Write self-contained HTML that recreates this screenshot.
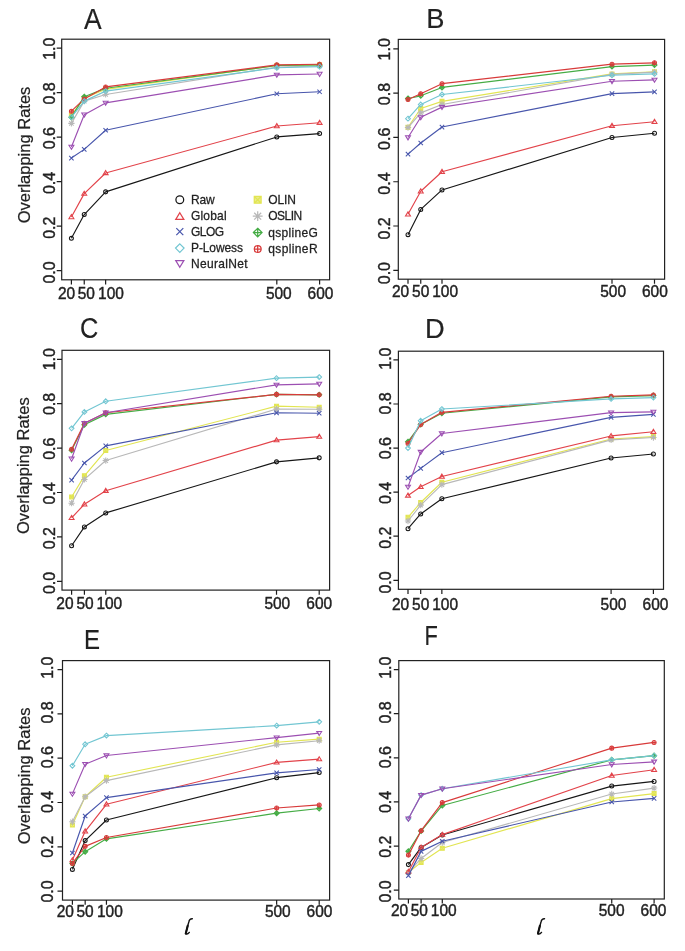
<!DOCTYPE html><html><head><meta charset="utf-8"><style>html,body{margin:0;padding:0;background:#fff;}svg{display:block;will-change:transform;}</style></head><body>
<svg width="685" height="951" viewBox="0 0 685 951">
<rect width="685" height="951" fill="#fff"/>
<g font-family='"Liberation Sans", sans-serif' fill="#222">
<rect x="61.7" y="39.2" width="267.9" height="240.6" fill="none" stroke="#222" stroke-width="1.2"/>
<path d="M56.7 270.6H61.7M56.7 226.12H61.7M56.7 181.64H61.7M56.7 137.16H61.7M56.7 92.68H61.7M56.7 48.2H61.7M71.4 279.8V284.4M84.24 279.8V284.4M105.63 279.8V284.4M276.81 279.8V284.4M319.6 279.8V284.4" stroke="#1c1c1c" stroke-width="1.2" fill="none"/>
<text transform="translate(54.8 272.5) rotate(-90) scale(1 1.04)" text-anchor="middle" font-size="16.0" stroke="#222" stroke-width="0.4">0.0</text>
<text transform="translate(54.8 227.73) rotate(-90) scale(1 1.04)" text-anchor="middle" font-size="16.0" stroke="#222" stroke-width="0.4">0.2</text>
<text transform="translate(54.8 182.96) rotate(-90) scale(1 1.04)" text-anchor="middle" font-size="16.0" stroke="#222" stroke-width="0.4">0.4</text>
<text transform="translate(54.8 138.19) rotate(-90) scale(1 1.04)" text-anchor="middle" font-size="16.0" stroke="#222" stroke-width="0.4">0.6</text>
<text transform="translate(54.8 93.42) rotate(-90) scale(1 1.04)" text-anchor="middle" font-size="16.0" stroke="#222" stroke-width="0.4">0.8</text>
<text transform="translate(54.8 48.65) rotate(-90) scale(1 1.04)" text-anchor="middle" font-size="16.0" stroke="#222" stroke-width="0.4">1.0</text>
<text transform="translate(57.9 299.2) scale(1 1.12)" font-size="15.5" stroke="#222" stroke-width="0.4">20</text>
<text transform="translate(77.7 299.2) scale(1 1.12)" font-size="15.5" stroke="#222" stroke-width="0.4">50</text>
<text transform="translate(98.1 299.2) scale(1 1.12)" font-size="15.5" stroke="#222" stroke-width="0.4">100</text>
<text transform="translate(265.9 299.2) scale(1 1.12)" font-size="15.5" stroke="#222" stroke-width="0.4">500</text>
<text transform="translate(307.6 299.2) scale(1 1.12)" font-size="15.5" stroke="#222" stroke-width="0.4">600</text>
<text transform="translate(84 28.6) scale(0.97 1.07)" font-size="27.3" stroke="#111" stroke-width="0.15">A</text>
<polyline points="71.4,238.35 84.24,214.56 105.63,191.87 276.81,136.94 319.6,133.6" fill="none" stroke="#161616" stroke-width="1.15" stroke-linejoin="round"/>
<circle cx="71.4" cy="238.35" r="1.99" fill="none" stroke="#161616" stroke-width="1.05"/>
<circle cx="84.24" cy="214.56" r="1.99" fill="none" stroke="#161616" stroke-width="1.05"/>
<circle cx="105.63" cy="191.87" r="1.99" fill="none" stroke="#161616" stroke-width="1.05"/>
<circle cx="276.81" cy="136.94" r="1.99" fill="none" stroke="#161616" stroke-width="1.05"/>
<circle cx="319.6" cy="133.6" r="1.99" fill="none" stroke="#161616" stroke-width="1.05"/>
<polyline points="71.4,114.92 84.24,98.24 105.63,89.34 276.81,65.55 319.6,64.88" fill="none" stroke="#e2e552" stroke-width="1.15" stroke-linejoin="round"/>
<path d="M69.41 112.93h3.99v3.99h-3.99ZM69.41 112.93L73.4 116.92M69.41 116.92L73.4 112.93" fill="#e9ec8a" stroke="#e2e552" stroke-width="1.05"/>
<path d="M82.24 96.24h3.99v3.99h-3.99ZM82.24 96.24L86.23 100.23M82.24 100.23L86.23 96.24" fill="#e9ec8a" stroke="#e2e552" stroke-width="1.05"/>
<path d="M103.64 87.35h3.99v3.99h-3.99ZM103.64 87.35L107.63 91.34M103.64 91.34L107.63 87.35" fill="#e9ec8a" stroke="#e2e552" stroke-width="1.05"/>
<path d="M274.81 63.55h3.99v3.99h-3.99ZM274.81 63.55L278.8 67.54M274.81 67.54L278.8 63.55" fill="#e9ec8a" stroke="#e2e552" stroke-width="1.05"/>
<path d="M317.61 62.88h3.99v3.99h-3.99ZM317.61 62.88L321.6 66.88M317.61 66.88L321.6 62.88" fill="#e9ec8a" stroke="#e2e552" stroke-width="1.05"/>
<polyline points="71.4,123.37 84.24,101.13 105.63,94.46 276.81,67.1 319.6,65.99" fill="none" stroke="#b8b8b8" stroke-width="1.15" stroke-linejoin="round"/>
<path d="M68.25 123.37L74.55 123.37M71.4 120.22L71.4 126.52M69.17 121.14L73.63 125.6M69.17 125.6L73.63 121.14" stroke="#b8b8b8" stroke-width="1.05"/>
<path d="M81.09 101.13L87.39 101.13M84.24 97.98L84.24 104.28M82.01 98.9L86.46 103.36M82.01 103.36L86.46 98.9" stroke="#b8b8b8" stroke-width="1.05"/>
<path d="M102.48 94.46L108.78 94.46M105.63 91.31L105.63 97.61M103.41 92.23L107.86 96.69M103.41 96.69L107.86 92.23" stroke="#b8b8b8" stroke-width="1.05"/>
<path d="M273.66 67.1L279.96 67.1M276.81 63.95L276.81 70.25M274.58 64.88L279.03 69.33M274.58 69.33L279.03 64.88" stroke="#b8b8b8" stroke-width="1.05"/>
<path d="M316.45 65.99L322.75 65.99M319.6 62.84L319.6 69.14M317.37 63.76L321.83 68.22M317.37 68.22L321.83 63.76" stroke="#b8b8b8" stroke-width="1.05"/>
<polyline points="71.4,217 84.24,193.65 105.63,172.97 276.81,126.04 319.6,122.7" fill="none" stroke="#e2434a" stroke-width="1.15" stroke-linejoin="round"/>
<path d="M71.4 214.59L73.89 218.67L68.91 218.67Z" fill="none" stroke="#e2434a" stroke-width="1.05" stroke-linejoin="miter"/>
<path d="M84.24 191.23L86.73 195.32L81.75 195.32Z" fill="none" stroke="#e2434a" stroke-width="1.05" stroke-linejoin="miter"/>
<path d="M105.63 170.55L108.12 174.63L103.15 174.63Z" fill="none" stroke="#e2434a" stroke-width="1.05" stroke-linejoin="miter"/>
<path d="M276.81 123.62L279.29 127.71L274.32 127.71Z" fill="none" stroke="#e2434a" stroke-width="1.05" stroke-linejoin="miter"/>
<path d="M319.6 120.29L322.09 124.37L317.11 124.37Z" fill="none" stroke="#e2434a" stroke-width="1.05" stroke-linejoin="miter"/>
<polyline points="71.4,158.07 84.24,149.39 105.63,130.27 276.81,93.79 319.6,91.79" fill="none" stroke="#4856ac" stroke-width="1.15" stroke-linejoin="round"/>
<path d="M69.2 155.86L73.61 160.27M69.2 160.27L73.61 155.86" stroke="#4856ac" stroke-width="1.05"/>
<path d="M82.03 147.19L86.44 151.6M82.03 151.6L86.44 147.19" stroke="#4856ac" stroke-width="1.05"/>
<path d="M103.43 128.06L107.84 132.47M103.43 132.47L107.84 128.06" stroke="#4856ac" stroke-width="1.05"/>
<path d="M274.6 91.59L279.01 96M274.6 96L279.01 91.59" stroke="#4856ac" stroke-width="1.05"/>
<path d="M317.4 89.59L321.81 94M317.4 94L321.81 89.59" stroke="#4856ac" stroke-width="1.05"/>
<polyline points="71.4,117.14 84.24,96.68 105.63,88.23 276.81,65.55 319.6,64.88" fill="none" stroke="#45ac45" stroke-width="1.15" stroke-linejoin="round"/>
<path d="M71.4 114.62L73.92 117.14L71.4 119.66L68.88 117.14ZM71.4 114.62L71.4 119.66M68.88 117.14L73.92 117.14" fill="none" stroke="#45ac45" stroke-width="1.05"/>
<path d="M84.24 94.16L86.76 96.68L84.24 99.2L81.72 96.68ZM84.24 94.16L84.24 99.2M81.72 96.68L86.76 96.68" fill="none" stroke="#45ac45" stroke-width="1.05"/>
<path d="M105.63 85.71L108.15 88.23L105.63 90.75L103.11 88.23ZM105.63 85.71L105.63 90.75M103.11 88.23L108.15 88.23" fill="none" stroke="#45ac45" stroke-width="1.05"/>
<path d="M276.81 63.03L279.33 65.55L276.81 68.07L274.29 65.55ZM276.81 63.03L276.81 68.07M274.29 65.55L279.33 65.55" fill="none" stroke="#45ac45" stroke-width="1.05"/>
<path d="M319.6 62.36L322.12 64.88L319.6 67.4L317.08 64.88ZM319.6 62.36L319.6 67.4M317.08 64.88L322.12 64.88" fill="none" stroke="#45ac45" stroke-width="1.05"/>
<polyline points="71.4,111.14 84.24,98.91 105.63,86.9 276.81,64.88 319.6,64.21" fill="none" stroke="#d83a3a" stroke-width="1.15" stroke-linejoin="round"/>
<circle cx="71.4" cy="111.14" r="1.99" fill="none" stroke="#d83a3a" stroke-width="1.05"/><path d="M71.4 109.14L71.4 113.13M69.41 111.14L73.4 111.14" stroke="#d83a3a" stroke-width="1.05"/>
<circle cx="84.24" cy="98.91" r="1.99" fill="none" stroke="#d83a3a" stroke-width="1.05"/><path d="M84.24 96.91L84.24 100.9M82.24 98.91L86.23 98.91" stroke="#d83a3a" stroke-width="1.05"/>
<circle cx="105.63" cy="86.9" r="1.99" fill="none" stroke="#d83a3a" stroke-width="1.05"/><path d="M105.63 84.9L105.63 88.89M103.64 86.9L107.63 86.9" stroke="#d83a3a" stroke-width="1.05"/>
<circle cx="276.81" cy="64.88" r="1.99" fill="none" stroke="#d83a3a" stroke-width="1.05"/><path d="M276.81 62.88L276.81 66.88M274.81 64.88L278.8 64.88" stroke="#d83a3a" stroke-width="1.05"/>
<circle cx="319.6" cy="64.21" r="1.99" fill="none" stroke="#d83a3a" stroke-width="1.05"/><path d="M319.6 62.22L319.6 66.21M317.61 64.21L321.6 64.21" stroke="#d83a3a" stroke-width="1.05"/>
<polyline points="71.4,117.14 84.24,101.13 105.63,91.12 276.81,67.77 319.6,66.66" fill="none" stroke="#72c6d2" stroke-width="1.15" stroke-linejoin="round"/>
<path d="M71.4 114.73L73.82 117.14L71.4 119.56L68.98 117.14Z" fill="none" stroke="#72c6d2" stroke-width="1.05"/>
<path d="M84.24 98.72L86.65 101.13L84.24 103.55L81.82 101.13Z" fill="none" stroke="#72c6d2" stroke-width="1.05"/>
<path d="M105.63 88.71L108.05 91.12L105.63 93.54L103.22 91.12Z" fill="none" stroke="#72c6d2" stroke-width="1.05"/>
<path d="M276.81 65.36L279.22 67.77L276.81 70.19L274.39 67.77Z" fill="none" stroke="#72c6d2" stroke-width="1.05"/>
<path d="M319.6 64.24L322.02 66.66L319.6 69.07L317.19 66.66Z" fill="none" stroke="#72c6d2" stroke-width="1.05"/>
<polyline points="71.4,146.95 84.24,114.7 105.63,102.91 276.81,74.89 319.6,74" fill="none" stroke="#9c4fb2" stroke-width="1.15" stroke-linejoin="round"/>
<path d="M71.4 149.36L73.89 145.28L68.91 145.28Z" fill="none" stroke="#9c4fb2" stroke-width="1.05"/>
<path d="M84.24 117.11L86.73 113.03L81.75 113.03Z" fill="none" stroke="#9c4fb2" stroke-width="1.05"/>
<path d="M105.63 105.33L108.12 101.24L103.15 101.24Z" fill="none" stroke="#9c4fb2" stroke-width="1.05"/>
<path d="M276.81 77.3L279.29 73.22L274.32 73.22Z" fill="none" stroke="#9c4fb2" stroke-width="1.05"/>
<path d="M319.6 76.41L322.09 72.33L317.11 72.33Z" fill="none" stroke="#9c4fb2" stroke-width="1.05"/>
<rect x="398.3" y="39.4" width="266.3" height="239.8" fill="none" stroke="#222" stroke-width="1.2"/>
<path d="M393.3 270.3H398.3M393.3 226.02H398.3M393.3 181.74H398.3M393.3 137.46H398.3M393.3 93.18H398.3M393.3 48.9H398.3M408 279.2V283.8M420.75 279.2V283.8M442 279.2V283.8M612 279.2V283.8M654.5 279.2V283.8" stroke="#1c1c1c" stroke-width="1.2" fill="none"/>
<text transform="translate(389.8 273.1) rotate(-90) scale(1 1.04)" text-anchor="middle" font-size="16.0" stroke="#222" stroke-width="0.4">0.0</text>
<text transform="translate(389.8 228.35) rotate(-90) scale(1 1.04)" text-anchor="middle" font-size="16.0" stroke="#222" stroke-width="0.4">0.2</text>
<text transform="translate(389.8 183.59) rotate(-90) scale(1 1.04)" text-anchor="middle" font-size="16.0" stroke="#222" stroke-width="0.4">0.4</text>
<text transform="translate(389.8 138.84) rotate(-90) scale(1 1.04)" text-anchor="middle" font-size="16.0" stroke="#222" stroke-width="0.4">0.6</text>
<text transform="translate(389.8 94.08) rotate(-90) scale(1 1.04)" text-anchor="middle" font-size="16.0" stroke="#222" stroke-width="0.4">0.8</text>
<text transform="translate(389.8 49.33) rotate(-90) scale(1 1.04)" text-anchor="middle" font-size="16.0" stroke="#222" stroke-width="0.4">1.0</text>
<text transform="translate(392 296.6) scale(1 1.12)" font-size="15.5" stroke="#222" stroke-width="0.4">20</text>
<text transform="translate(412.1 296.6) scale(1 1.12)" font-size="15.5" stroke="#222" stroke-width="0.4">50</text>
<text transform="translate(432.2 296.6) scale(1 1.12)" font-size="15.5" stroke="#222" stroke-width="0.4">100</text>
<text transform="translate(600.2 296.6) scale(1 1.12)" font-size="15.5" stroke="#222" stroke-width="0.4">500</text>
<text transform="translate(642 296.6) scale(1 1.12)" font-size="15.5" stroke="#222" stroke-width="0.4">600</text>
<text transform="translate(426.2 28.2) scale(1 1.03)" font-size="27.3" stroke="#111" stroke-width="0.15">B</text>
<polyline points="408,234.65 420.75,209.42 442,189.93 612,137.46 654.5,133.25" fill="none" stroke="#161616" stroke-width="1.15" stroke-linejoin="round"/>
<circle cx="408" cy="234.65" r="1.99" fill="none" stroke="#161616" stroke-width="1.05"/>
<circle cx="420.75" cy="209.42" r="1.99" fill="none" stroke="#161616" stroke-width="1.05"/>
<circle cx="442" cy="189.93" r="1.99" fill="none" stroke="#161616" stroke-width="1.05"/>
<circle cx="612" cy="137.46" r="1.99" fill="none" stroke="#161616" stroke-width="1.05"/>
<circle cx="654.5" cy="133.25" r="1.99" fill="none" stroke="#161616" stroke-width="1.05"/>
<polyline points="408,127.28 420.75,108.46 442,101.37 612,73.92 654.5,71.7" fill="none" stroke="#e2e552" stroke-width="1.15" stroke-linejoin="round"/>
<path d="M406 125.28h3.99v3.99h-3.99ZM406 125.28L410 129.27M406 129.27L410 125.28" fill="#e9ec8a" stroke="#e2e552" stroke-width="1.05"/>
<path d="M418.75 106.46h3.99v3.99h-3.99ZM418.75 106.46L422.75 110.45M418.75 110.45L422.75 106.46" fill="#e9ec8a" stroke="#e2e552" stroke-width="1.05"/>
<path d="M440 99.38h3.99v3.99h-3.99ZM440 99.38L444 103.37M440 103.37L444 99.38" fill="#e9ec8a" stroke="#e2e552" stroke-width="1.05"/>
<path d="M610 71.92h3.99v3.99h-3.99ZM610 71.92L614 75.91M610 75.91L614 71.92" fill="#e9ec8a" stroke="#e2e552" stroke-width="1.05"/>
<path d="M652.5 69.71h3.99v3.99h-3.99ZM652.5 69.71L656.5 73.7M652.5 73.7L656.5 69.71" fill="#e9ec8a" stroke="#e2e552" stroke-width="1.05"/>
<polyline points="408,127.5 420.75,112.88 442,104.47 612,74.36 654.5,72.15" fill="none" stroke="#b8b8b8" stroke-width="1.15" stroke-linejoin="round"/>
<path d="M404.85 127.5L411.15 127.5M408 124.35L408 130.65M405.77 125.27L410.23 129.72M405.77 129.72L410.23 125.27" stroke="#b8b8b8" stroke-width="1.05"/>
<path d="M417.6 112.88L423.9 112.88M420.75 109.73L420.75 116.03M418.52 110.66L422.98 115.11M418.52 115.11L422.98 110.66" stroke="#b8b8b8" stroke-width="1.05"/>
<path d="M438.85 104.47L445.15 104.47M442 101.32L442 107.62M439.77 102.24L444.23 106.7M439.77 106.7L444.23 102.24" stroke="#b8b8b8" stroke-width="1.05"/>
<path d="M608.85 74.36L615.15 74.36M612 71.21L612 77.51M609.77 72.13L614.23 76.59M609.77 76.59L614.23 72.13" stroke="#b8b8b8" stroke-width="1.05"/>
<path d="M651.35 72.15L657.65 72.15M654.5 69L654.5 75.3M652.27 69.92L656.73 74.37M652.27 74.37L656.73 69.92" stroke="#b8b8b8" stroke-width="1.05"/>
<polyline points="408,214.29 420.75,191.26 442,171.78 612,125.73 654.5,121.74" fill="none" stroke="#e2434a" stroke-width="1.15" stroke-linejoin="round"/>
<path d="M408 211.87L410.49 215.95L405.51 215.95Z" fill="none" stroke="#e2434a" stroke-width="1.05" stroke-linejoin="miter"/>
<path d="M420.75 188.85L423.24 192.93L418.26 192.93Z" fill="none" stroke="#e2434a" stroke-width="1.05" stroke-linejoin="miter"/>
<path d="M442 169.36L444.49 173.44L439.51 173.44Z" fill="none" stroke="#e2434a" stroke-width="1.05" stroke-linejoin="miter"/>
<path d="M612 123.31L614.49 127.39L609.51 127.39Z" fill="none" stroke="#e2434a" stroke-width="1.05" stroke-linejoin="miter"/>
<path d="M654.5 119.33L656.99 123.41L652.01 123.41Z" fill="none" stroke="#e2434a" stroke-width="1.05" stroke-linejoin="miter"/>
<polyline points="408,154.06 420.75,143 442,127.05 612,93.62 654.5,91.85" fill="none" stroke="#4856ac" stroke-width="1.15" stroke-linejoin="round"/>
<path d="M405.8 151.86L410.2 156.27M405.8 156.27L410.2 151.86" stroke="#4856ac" stroke-width="1.05"/>
<path d="M418.55 140.79L422.95 145.2M418.55 145.2L422.95 140.79" stroke="#4856ac" stroke-width="1.05"/>
<path d="M439.8 124.85L444.2 129.26M439.8 129.26L444.2 124.85" stroke="#4856ac" stroke-width="1.05"/>
<path d="M609.79 91.42L614.21 95.83M609.79 95.83L614.21 91.42" stroke="#4856ac" stroke-width="1.05"/>
<path d="M652.29 89.65L656.71 94.06M652.29 94.06L656.71 89.65" stroke="#4856ac" stroke-width="1.05"/>
<polyline points="408,98.49 420.75,95.84 442,87.42 612,66.61 654.5,65.06" fill="none" stroke="#45ac45" stroke-width="1.15" stroke-linejoin="round"/>
<path d="M408 95.97L410.52 98.49L408 101.01L405.48 98.49ZM408 95.97L408 101.01M405.48 98.49L410.52 98.49" fill="none" stroke="#45ac45" stroke-width="1.05"/>
<path d="M420.75 93.32L423.27 95.84L420.75 98.36L418.23 95.84ZM420.75 93.32L420.75 98.36M418.23 95.84L423.27 95.84" fill="none" stroke="#45ac45" stroke-width="1.05"/>
<path d="M442 84.9L444.52 87.42L442 89.94L439.48 87.42ZM442 84.9L442 89.94M439.48 87.42L444.52 87.42" fill="none" stroke="#45ac45" stroke-width="1.05"/>
<path d="M612 64.09L614.52 66.61L612 69.13L609.48 66.61ZM612 64.09L612 69.13M609.48 66.61L614.52 66.61" fill="none" stroke="#45ac45" stroke-width="1.05"/>
<path d="M654.5 62.54L657.02 65.06L654.5 67.58L651.98 65.06ZM654.5 62.54L654.5 67.58M651.98 65.06L657.02 65.06" fill="none" stroke="#45ac45" stroke-width="1.05"/>
<polyline points="408,99.6 420.75,93.84 442,83.66 612,64.18 654.5,62.85" fill="none" stroke="#d83a3a" stroke-width="1.15" stroke-linejoin="round"/>
<circle cx="408" cy="99.6" r="1.99" fill="none" stroke="#d83a3a" stroke-width="1.05"/><path d="M408 97.61L408 101.6M406 99.6L410 99.6" stroke="#d83a3a" stroke-width="1.05"/>
<circle cx="420.75" cy="93.84" r="1.99" fill="none" stroke="#d83a3a" stroke-width="1.05"/><path d="M420.75 91.85L420.75 95.84M418.75 93.84L422.75 93.84" stroke="#d83a3a" stroke-width="1.05"/>
<circle cx="442" cy="83.66" r="1.99" fill="none" stroke="#d83a3a" stroke-width="1.05"/><path d="M442 81.66L442 85.65M440 83.66L444 83.66" stroke="#d83a3a" stroke-width="1.05"/>
<circle cx="612" cy="64.18" r="1.99" fill="none" stroke="#d83a3a" stroke-width="1.05"/><path d="M612 62.18L612 66.17M610 64.18L614 64.18" stroke="#d83a3a" stroke-width="1.05"/>
<circle cx="654.5" cy="62.85" r="1.99" fill="none" stroke="#d83a3a" stroke-width="1.05"/><path d="M654.5 60.85L654.5 64.84M652.5 62.85L656.5 62.85" stroke="#d83a3a" stroke-width="1.05"/>
<polyline points="408,118.64 420.75,104.47 442,94.51 612,75.25 654.5,73.92" fill="none" stroke="#72c6d2" stroke-width="1.15" stroke-linejoin="round"/>
<path d="M408 116.23L410.42 118.64L408 121.06L405.58 118.64Z" fill="none" stroke="#72c6d2" stroke-width="1.05"/>
<path d="M420.75 102.06L423.17 104.47L420.75 106.89L418.33 104.47Z" fill="none" stroke="#72c6d2" stroke-width="1.05"/>
<path d="M442 92.09L444.42 94.51L442 96.92L439.58 94.51Z" fill="none" stroke="#72c6d2" stroke-width="1.05"/>
<path d="M612 72.83L614.41 75.25L612 77.66L609.59 75.25Z" fill="none" stroke="#72c6d2" stroke-width="1.05"/>
<path d="M654.5 71.5L656.91 73.92L654.5 76.33L652.09 73.92Z" fill="none" stroke="#72c6d2" stroke-width="1.05"/>
<polyline points="408,137.46 420.75,117.31 442,107.13 612,81.22 654.5,79.9" fill="none" stroke="#9c4fb2" stroke-width="1.15" stroke-linejoin="round"/>
<path d="M408 139.88L410.49 135.79L405.51 135.79Z" fill="none" stroke="#9c4fb2" stroke-width="1.05"/>
<path d="M420.75 119.73L423.24 115.65L418.26 115.65Z" fill="none" stroke="#9c4fb2" stroke-width="1.05"/>
<path d="M442 109.54L444.49 105.46L439.51 105.46Z" fill="none" stroke="#9c4fb2" stroke-width="1.05"/>
<path d="M612 83.64L614.49 79.56L609.51 79.56Z" fill="none" stroke="#9c4fb2" stroke-width="1.05"/>
<path d="M654.5 82.31L656.99 78.23L652.01 78.23Z" fill="none" stroke="#9c4fb2" stroke-width="1.05"/>
<rect x="62" y="350.3" width="267.6" height="239.8" fill="none" stroke="#222" stroke-width="1.2"/>
<path d="M57 581.3H62M57 536.9H62M57 492.5H62M57 448.1H62M57 403.7H62M57 359.3H62M71.6 590.1V594.7M84.41 590.1V594.7M105.75 590.1V594.7M276.51 590.1V594.7M319.2 590.1V594.7" stroke="#1c1c1c" stroke-width="1.2" fill="none"/>
<text transform="translate(54.5 583) rotate(-90) scale(1 1.04)" text-anchor="middle" font-size="16.0" stroke="#222" stroke-width="0.4">0.0</text>
<text transform="translate(54.5 538.24) rotate(-90) scale(1 1.04)" text-anchor="middle" font-size="16.0" stroke="#222" stroke-width="0.4">0.2</text>
<text transform="translate(54.5 493.48) rotate(-90) scale(1 1.04)" text-anchor="middle" font-size="16.0" stroke="#222" stroke-width="0.4">0.4</text>
<text transform="translate(54.5 448.72) rotate(-90) scale(1 1.04)" text-anchor="middle" font-size="16.0" stroke="#222" stroke-width="0.4">0.6</text>
<text transform="translate(54.5 403.96) rotate(-90) scale(1 1.04)" text-anchor="middle" font-size="16.0" stroke="#222" stroke-width="0.4">0.8</text>
<text transform="translate(54.5 359.2) rotate(-90) scale(1 1.04)" text-anchor="middle" font-size="16.0" stroke="#222" stroke-width="0.4">1.0</text>
<text transform="translate(56.3 608.8) scale(1 1.12)" font-size="15.5" stroke="#222" stroke-width="0.4">20</text>
<text transform="translate(76.5 608.8) scale(1 1.12)" font-size="15.5" stroke="#222" stroke-width="0.4">50</text>
<text transform="translate(96.4 608.8) scale(1 1.12)" font-size="15.5" stroke="#222" stroke-width="0.4">100</text>
<text transform="translate(264.4 608.8) scale(1 1.12)" font-size="15.5" stroke="#222" stroke-width="0.4">500</text>
<text transform="translate(306.3 608.8) scale(1 1.12)" font-size="15.5" stroke="#222" stroke-width="0.4">600</text>
<text transform="translate(79.9 338) scale(0.93 1.06)" font-size="27.3" stroke="#111" stroke-width="0.15">C</text>
<polyline points="71.6,545.78 84.41,526.91 105.75,512.92 276.51,461.86 319.2,457.87" fill="none" stroke="#161616" stroke-width="1.15" stroke-linejoin="round"/>
<circle cx="71.6" cy="545.78" r="1.99" fill="none" stroke="#161616" stroke-width="1.05"/>
<circle cx="84.41" cy="526.91" r="1.99" fill="none" stroke="#161616" stroke-width="1.05"/>
<circle cx="105.75" cy="512.92" r="1.99" fill="none" stroke="#161616" stroke-width="1.05"/>
<circle cx="276.51" cy="461.86" r="1.99" fill="none" stroke="#161616" stroke-width="1.05"/>
<circle cx="319.2" cy="457.87" r="1.99" fill="none" stroke="#161616" stroke-width="1.05"/>
<polyline points="71.6,496.94 84.41,475.85 105.75,450.54 276.51,406.14 319.2,407.25" fill="none" stroke="#e2e552" stroke-width="1.15" stroke-linejoin="round"/>
<path d="M69.6 494.94h3.99v3.99h-3.99ZM69.6 494.94L73.59 498.93M69.6 498.93L73.59 494.94" fill="#e9ec8a" stroke="#e2e552" stroke-width="1.05"/>
<path d="M82.41 473.85h3.99v3.99h-3.99ZM82.41 473.85L86.4 477.84M82.41 477.84L86.4 473.85" fill="#e9ec8a" stroke="#e2e552" stroke-width="1.05"/>
<path d="M103.76 448.55h3.99v3.99h-3.99ZM103.76 448.55L107.75 452.54M103.76 452.54L107.75 448.55" fill="#e9ec8a" stroke="#e2e552" stroke-width="1.05"/>
<path d="M274.52 404.15h3.99v3.99h-3.99ZM274.52 404.15L278.51 408.14M274.52 408.14L278.51 404.15" fill="#e9ec8a" stroke="#e2e552" stroke-width="1.05"/>
<path d="M317.2 405.26h3.99v3.99h-3.99ZM317.2 405.26L321.19 409.25M317.2 409.25L321.19 405.26" fill="#e9ec8a" stroke="#e2e552" stroke-width="1.05"/>
<polyline points="71.6,503.16 84.41,479.4 105.75,460.53 276.51,409.03 319.2,409.25" fill="none" stroke="#b8b8b8" stroke-width="1.15" stroke-linejoin="round"/>
<path d="M68.45 503.16L74.75 503.16M71.6 500.01L71.6 506.31M69.37 500.93L73.83 505.38M69.37 505.38L73.83 500.93" stroke="#b8b8b8" stroke-width="1.05"/>
<path d="M81.26 479.4L87.56 479.4M84.41 476.25L84.41 482.55M82.18 477.17L86.63 481.63M82.18 481.63L86.63 477.17" stroke="#b8b8b8" stroke-width="1.05"/>
<path d="M102.6 460.53L108.9 460.53M105.75 457.38L105.75 463.68M103.52 458.3L107.98 462.76M103.52 462.76L107.98 458.3" stroke="#b8b8b8" stroke-width="1.05"/>
<path d="M273.36 409.03L279.66 409.03M276.51 405.88L276.51 412.18M274.28 406.8L278.74 411.26M274.28 411.26L278.74 406.8" stroke="#b8b8b8" stroke-width="1.05"/>
<path d="M316.05 409.25L322.35 409.25M319.2 406.1L319.2 412.4M316.97 407.02L321.43 411.48M316.97 411.48L321.43 407.02" stroke="#b8b8b8" stroke-width="1.05"/>
<polyline points="71.6,517.81 84.41,504.27 105.75,490.72 276.51,440.11 319.2,436.56" fill="none" stroke="#e2434a" stroke-width="1.15" stroke-linejoin="round"/>
<path d="M71.6 515.39L74.09 519.47L69.11 519.47Z" fill="none" stroke="#e2434a" stroke-width="1.05" stroke-linejoin="miter"/>
<path d="M84.41 501.85L86.89 505.93L81.92 505.93Z" fill="none" stroke="#e2434a" stroke-width="1.05" stroke-linejoin="miter"/>
<path d="M105.75 488.31L108.24 492.39L103.26 492.39Z" fill="none" stroke="#e2434a" stroke-width="1.05" stroke-linejoin="miter"/>
<path d="M276.51 437.69L279 441.77L274.02 441.77Z" fill="none" stroke="#e2434a" stroke-width="1.05" stroke-linejoin="miter"/>
<path d="M319.2 434.14L321.69 438.22L316.71 438.22Z" fill="none" stroke="#e2434a" stroke-width="1.05" stroke-linejoin="miter"/>
<polyline points="71.6,480.07 84.41,462.97 105.75,445.88 276.51,412.8 319.2,413.25" fill="none" stroke="#4856ac" stroke-width="1.15" stroke-linejoin="round"/>
<path d="M69.39 477.86L73.8 482.27M69.39 482.27L73.8 477.86" stroke="#4856ac" stroke-width="1.05"/>
<path d="M82.2 460.77L86.61 465.18M82.2 465.18L86.61 460.77" stroke="#4856ac" stroke-width="1.05"/>
<path d="M103.55 443.68L107.96 448.08M103.55 448.08L107.96 443.68" stroke="#4856ac" stroke-width="1.05"/>
<path d="M274.31 410.6L278.72 415.01M274.31 415.01L278.72 410.6" stroke="#4856ac" stroke-width="1.05"/>
<path d="M317 411.04L321.4 415.45M317 415.45L321.4 411.04" stroke="#4856ac" stroke-width="1.05"/>
<polyline points="71.6,450.32 84.41,424.79 105.75,414.36 276.51,394.38 319.2,394.82" fill="none" stroke="#45ac45" stroke-width="1.15" stroke-linejoin="round"/>
<path d="M71.6 447.8L74.12 450.32L71.6 452.84L69.08 450.32ZM71.6 447.8L71.6 452.84M69.08 450.32L74.12 450.32" fill="none" stroke="#45ac45" stroke-width="1.05"/>
<path d="M84.41 422.27L86.93 424.79L84.41 427.31L81.89 424.79ZM84.41 422.27L84.41 427.31M81.89 424.79L86.93 424.79" fill="none" stroke="#45ac45" stroke-width="1.05"/>
<path d="M105.75 411.84L108.27 414.36L105.75 416.88L103.23 414.36ZM105.75 411.84L105.75 416.88M103.23 414.36L108.27 414.36" fill="none" stroke="#45ac45" stroke-width="1.05"/>
<path d="M276.51 391.86L279.03 394.38L276.51 396.9L273.99 394.38ZM276.51 391.86L276.51 396.9M273.99 394.38L279.03 394.38" fill="none" stroke="#45ac45" stroke-width="1.05"/>
<path d="M319.2 392.3L321.72 394.82L319.2 397.34L316.68 394.82ZM319.2 392.3L319.2 397.34M316.68 394.82L321.72 394.82" fill="none" stroke="#45ac45" stroke-width="1.05"/>
<polyline points="71.6,449.21 84.41,423.24 105.75,412.8 276.51,394.38 319.2,394.82" fill="none" stroke="#d83a3a" stroke-width="1.15" stroke-linejoin="round"/>
<circle cx="71.6" cy="449.21" r="1.99" fill="none" stroke="#d83a3a" stroke-width="1.05"/><path d="M71.6 447.22L71.6 451.21M69.6 449.21L73.59 449.21" stroke="#d83a3a" stroke-width="1.05"/>
<circle cx="84.41" cy="423.24" r="1.99" fill="none" stroke="#d83a3a" stroke-width="1.05"/><path d="M84.41 421.24L84.41 425.23M82.41 423.24L86.4 423.24" stroke="#d83a3a" stroke-width="1.05"/>
<circle cx="105.75" cy="412.8" r="1.99" fill="none" stroke="#d83a3a" stroke-width="1.05"/><path d="M105.75 410.81L105.75 414.8M103.76 412.8L107.75 412.8" stroke="#d83a3a" stroke-width="1.05"/>
<circle cx="276.51" cy="394.38" r="1.99" fill="none" stroke="#d83a3a" stroke-width="1.05"/><path d="M276.51 392.38L276.51 396.37M274.52 394.38L278.51 394.38" stroke="#d83a3a" stroke-width="1.05"/>
<circle cx="319.2" cy="394.82" r="1.99" fill="none" stroke="#d83a3a" stroke-width="1.05"/><path d="M319.2 392.83L319.2 396.82M317.2 394.82L321.19 394.82" stroke="#d83a3a" stroke-width="1.05"/>
<polyline points="71.6,428.34 84.41,411.91 105.75,401.26 276.51,378.17 319.2,377.06" fill="none" stroke="#72c6d2" stroke-width="1.15" stroke-linejoin="round"/>
<path d="M71.6 425.93L74.02 428.34L71.6 430.76L69.18 428.34Z" fill="none" stroke="#72c6d2" stroke-width="1.05"/>
<path d="M84.41 409.5L86.82 411.91L84.41 414.33L81.99 411.91Z" fill="none" stroke="#72c6d2" stroke-width="1.05"/>
<path d="M105.75 398.84L108.17 401.26L105.75 403.67L103.34 401.26Z" fill="none" stroke="#72c6d2" stroke-width="1.05"/>
<path d="M276.51 375.75L278.93 378.17L276.51 380.58L274.1 378.17Z" fill="none" stroke="#72c6d2" stroke-width="1.05"/>
<path d="M319.2 374.64L321.62 377.06L319.2 379.48L316.78 377.06Z" fill="none" stroke="#72c6d2" stroke-width="1.05"/>
<polyline points="71.6,458.76 84.41,423.24 105.75,412.8 276.51,384.83 319.2,383.94" fill="none" stroke="#9c4fb2" stroke-width="1.15" stroke-linejoin="round"/>
<path d="M71.6 461.17L74.09 457.09L69.11 457.09Z" fill="none" stroke="#9c4fb2" stroke-width="1.05"/>
<path d="M84.41 425.65L86.89 421.57L81.92 421.57Z" fill="none" stroke="#9c4fb2" stroke-width="1.05"/>
<path d="M105.75 415.22L108.24 411.14L103.26 411.14Z" fill="none" stroke="#9c4fb2" stroke-width="1.05"/>
<path d="M276.51 387.25L279 383.16L274.02 383.16Z" fill="none" stroke="#9c4fb2" stroke-width="1.05"/>
<path d="M319.2 386.36L321.69 382.28L316.71 382.28Z" fill="none" stroke="#9c4fb2" stroke-width="1.05"/>
<rect x="398.4" y="351.2" width="265.1" height="238.1" fill="none" stroke="#222" stroke-width="1.2"/>
<path d="M393.4 580.3H398.4M393.4 536.22H398.4M393.4 492.14H398.4M393.4 448.06H398.4M393.4 403.98H398.4M393.4 359.9H398.4M408 589.3V593.9M420.69 589.3V593.9M441.85 589.3V593.9M611.09 589.3V593.9M653.4 589.3V593.9" stroke="#1c1c1c" stroke-width="1.2" fill="none"/>
<text transform="translate(391.1 582.5) rotate(-90) scale(1 1.04)" text-anchor="middle" font-size="16.0" stroke="#222" stroke-width="0.4">0.0</text>
<text transform="translate(391.1 537.72) rotate(-90) scale(1 1.04)" text-anchor="middle" font-size="16.0" stroke="#222" stroke-width="0.4">0.2</text>
<text transform="translate(391.1 492.94) rotate(-90) scale(1 1.04)" text-anchor="middle" font-size="16.0" stroke="#222" stroke-width="0.4">0.4</text>
<text transform="translate(391.1 448.16) rotate(-90) scale(1 1.04)" text-anchor="middle" font-size="16.0" stroke="#222" stroke-width="0.4">0.6</text>
<text transform="translate(391.1 403.38) rotate(-90) scale(1 1.04)" text-anchor="middle" font-size="16.0" stroke="#222" stroke-width="0.4">0.8</text>
<text transform="translate(391.1 358.6) rotate(-90) scale(1 1.04)" text-anchor="middle" font-size="16.0" stroke="#222" stroke-width="0.4">1.0</text>
<text transform="translate(392 609.6) scale(1 1.12)" font-size="15.5" stroke="#222" stroke-width="0.4">20</text>
<text transform="translate(412.1 609.6) scale(1 1.12)" font-size="15.5" stroke="#222" stroke-width="0.4">50</text>
<text transform="translate(432.2 609.6) scale(1 1.12)" font-size="15.5" stroke="#222" stroke-width="0.4">100</text>
<text transform="translate(600.6 609.6) scale(1 1.12)" font-size="15.5" stroke="#222" stroke-width="0.4">500</text>
<text transform="translate(642.6 609.6) scale(1 1.12)" font-size="15.5" stroke="#222" stroke-width="0.4">600</text>
<text transform="translate(425 337.7) scale(1 1)" font-size="27.3" stroke="#111" stroke-width="0.15">D</text>
<polyline points="408,528.73 420.69,513.96 441.85,498.75 611.09,457.98 653.4,454.01" fill="none" stroke="#161616" stroke-width="1.15" stroke-linejoin="round"/>
<circle cx="408" cy="528.73" r="1.99" fill="none" stroke="#161616" stroke-width="1.05"/>
<circle cx="420.69" cy="513.96" r="1.99" fill="none" stroke="#161616" stroke-width="1.05"/>
<circle cx="441.85" cy="498.75" r="1.99" fill="none" stroke="#161616" stroke-width="1.05"/>
<circle cx="611.09" cy="457.98" r="1.99" fill="none" stroke="#161616" stroke-width="1.05"/>
<circle cx="653.4" cy="454.01" r="1.99" fill="none" stroke="#161616" stroke-width="1.05"/>
<polyline points="408,517.27 420.69,502.5 441.85,482.22 611.09,439.02 653.4,436.6" fill="none" stroke="#e2e552" stroke-width="1.15" stroke-linejoin="round"/>
<path d="M406 515.27h3.99v3.99h-3.99ZM406 515.27L410 519.26M406 519.26L410 515.27" fill="#e9ec8a" stroke="#e2e552" stroke-width="1.05"/>
<path d="M418.7 500.5h3.99v3.99h-3.99ZM418.7 500.5L422.69 504.49M418.7 504.49L422.69 500.5" fill="#e9ec8a" stroke="#e2e552" stroke-width="1.05"/>
<path d="M439.85 480.23h3.99v3.99h-3.99ZM439.85 480.23L443.84 484.22M439.85 484.22L443.84 480.23" fill="#e9ec8a" stroke="#e2e552" stroke-width="1.05"/>
<path d="M609.09 437.03h3.99v3.99h-3.99ZM609.09 437.03L613.08 441.02M609.09 441.02L613.08 437.03" fill="#e9ec8a" stroke="#e2e552" stroke-width="1.05"/>
<path d="M651.4 434.6h3.99v3.99h-3.99ZM651.4 434.6L655.39 438.59M651.4 438.59L655.39 434.6" fill="#e9ec8a" stroke="#e2e552" stroke-width="1.05"/>
<polyline points="408,521.01 420.69,505.14 441.85,484.65 611.09,439.91 653.4,437.48" fill="none" stroke="#b8b8b8" stroke-width="1.15" stroke-linejoin="round"/>
<path d="M404.85 521.01L411.15 521.01M408 517.86L408 524.16M405.77 518.79L410.23 523.24M405.77 523.24L410.23 518.79" stroke="#b8b8b8" stroke-width="1.05"/>
<path d="M417.54 505.14L423.84 505.14M420.69 501.99L420.69 508.29M418.47 502.92L422.92 507.37M418.47 507.37L422.92 502.92" stroke="#b8b8b8" stroke-width="1.05"/>
<path d="M438.7 484.65L445 484.65M441.85 481.5L441.85 487.8M439.62 482.42L444.08 486.87M439.62 486.87L444.08 482.42" stroke="#b8b8b8" stroke-width="1.05"/>
<path d="M607.94 439.91L614.24 439.91M611.09 436.76L611.09 443.06M608.86 437.68L613.32 442.13M608.86 442.13L613.32 437.68" stroke="#b8b8b8" stroke-width="1.05"/>
<path d="M650.25 437.48L656.55 437.48M653.4 434.33L653.4 440.63M651.17 435.25L655.63 439.71M651.17 439.71L655.63 435.25" stroke="#b8b8b8" stroke-width="1.05"/>
<polyline points="408,495.45 420.69,486.85 441.85,476.49 611.09,435.94 653.4,431.75" fill="none" stroke="#e2434a" stroke-width="1.15" stroke-linejoin="round"/>
<path d="M408 493.03L410.49 497.11L405.51 497.11Z" fill="none" stroke="#e2434a" stroke-width="1.05" stroke-linejoin="miter"/>
<path d="M420.69 484.44L423.18 488.52L418.21 488.52Z" fill="none" stroke="#e2434a" stroke-width="1.05" stroke-linejoin="miter"/>
<path d="M441.85 474.08L444.34 478.16L439.36 478.16Z" fill="none" stroke="#e2434a" stroke-width="1.05" stroke-linejoin="miter"/>
<path d="M611.09 433.52L613.58 437.6L608.6 437.6Z" fill="none" stroke="#e2434a" stroke-width="1.05" stroke-linejoin="miter"/>
<path d="M653.4 429.34L655.89 433.42L650.91 433.42Z" fill="none" stroke="#e2434a" stroke-width="1.05" stroke-linejoin="miter"/>
<polyline points="408,478.03 420.69,468.34 441.85,452.69 611.09,417.42 653.4,414.34" fill="none" stroke="#4856ac" stroke-width="1.15" stroke-linejoin="round"/>
<path d="M405.8 475.83L410.2 480.24M405.8 480.24L410.2 475.83" stroke="#4856ac" stroke-width="1.05"/>
<path d="M418.49 466.13L422.9 470.54M418.49 470.54L422.9 466.13" stroke="#4856ac" stroke-width="1.05"/>
<path d="M439.64 450.48L444.05 454.89M439.64 454.89L444.05 450.48" stroke="#4856ac" stroke-width="1.05"/>
<path d="M608.88 415.22L613.29 419.63M608.88 419.63L613.29 415.22" stroke="#4856ac" stroke-width="1.05"/>
<path d="M651.19 412.13L655.61 416.54M651.19 416.54L655.61 412.13" stroke="#4856ac" stroke-width="1.05"/>
<polyline points="408,441.67 420.69,424.48 441.85,413.24 611.09,396.93 653.4,395.6" fill="none" stroke="#45ac45" stroke-width="1.15" stroke-linejoin="round"/>
<path d="M408 439.15L410.52 441.67L408 444.19L405.48 441.67ZM408 439.15L408 444.19M405.48 441.67L410.52 441.67" fill="none" stroke="#45ac45" stroke-width="1.05"/>
<path d="M420.69 421.96L423.21 424.48L420.69 427L418.17 424.48ZM420.69 421.96L420.69 427M418.17 424.48L423.21 424.48" fill="none" stroke="#45ac45" stroke-width="1.05"/>
<path d="M441.85 410.72L444.37 413.24L441.85 415.76L439.33 413.24ZM441.85 410.72L441.85 415.76M439.33 413.24L444.37 413.24" fill="none" stroke="#45ac45" stroke-width="1.05"/>
<path d="M611.09 394.41L613.61 396.93L611.09 399.45L608.57 396.93ZM611.09 394.41L611.09 399.45M608.57 396.93L613.61 396.93" fill="none" stroke="#45ac45" stroke-width="1.05"/>
<path d="M653.4 393.08L655.92 395.6L653.4 398.12L650.88 395.6ZM653.4 393.08L653.4 398.12M650.88 395.6L655.92 395.6" fill="none" stroke="#45ac45" stroke-width="1.05"/>
<polyline points="408,443.43 420.69,424.48 441.85,412.36 611.09,396.27 653.4,394.94" fill="none" stroke="#d83a3a" stroke-width="1.15" stroke-linejoin="round"/>
<circle cx="408" cy="443.43" r="1.99" fill="none" stroke="#d83a3a" stroke-width="1.05"/><path d="M408 441.44L408 445.43M406 443.43L410 443.43" stroke="#d83a3a" stroke-width="1.05"/>
<circle cx="420.69" cy="424.48" r="1.99" fill="none" stroke="#d83a3a" stroke-width="1.05"/><path d="M420.69 422.48L420.69 426.47M418.7 424.48L422.69 424.48" stroke="#d83a3a" stroke-width="1.05"/>
<circle cx="441.85" cy="412.36" r="1.99" fill="none" stroke="#d83a3a" stroke-width="1.05"/><path d="M441.85 410.36L441.85 414.35M439.85 412.36L443.84 412.36" stroke="#d83a3a" stroke-width="1.05"/>
<circle cx="611.09" cy="396.27" r="1.99" fill="none" stroke="#d83a3a" stroke-width="1.05"/><path d="M611.09 394.27L611.09 398.26M609.09 396.27L613.08 396.27" stroke="#d83a3a" stroke-width="1.05"/>
<circle cx="653.4" cy="394.94" r="1.99" fill="none" stroke="#d83a3a" stroke-width="1.05"/><path d="M653.4 392.95L653.4 396.94M651.4 394.94L655.39 394.94" stroke="#d83a3a" stroke-width="1.05"/>
<polyline points="408,448.06 420.69,420.73 441.85,409.05 611.09,398.91 653.4,397.59" fill="none" stroke="#72c6d2" stroke-width="1.15" stroke-linejoin="round"/>
<path d="M408 445.64L410.42 448.06L408 450.47L405.58 448.06Z" fill="none" stroke="#72c6d2" stroke-width="1.05"/>
<path d="M420.69 418.32L423.11 420.73L420.69 423.15L418.28 420.73Z" fill="none" stroke="#72c6d2" stroke-width="1.05"/>
<path d="M441.85 406.63L444.26 409.05L441.85 411.46L439.43 409.05Z" fill="none" stroke="#72c6d2" stroke-width="1.05"/>
<path d="M611.09 396.5L613.5 398.91L611.09 401.33L608.67 398.91Z" fill="none" stroke="#72c6d2" stroke-width="1.05"/>
<path d="M653.4 395.17L655.81 397.59L653.4 400L650.99 397.59Z" fill="none" stroke="#72c6d2" stroke-width="1.05"/>
<polyline points="408,486.85 420.69,452.03 441.85,433.51 611.09,412.58 653.4,411.91" fill="none" stroke="#9c4fb2" stroke-width="1.15" stroke-linejoin="round"/>
<path d="M408 489.27L410.49 485.18L405.51 485.18Z" fill="none" stroke="#9c4fb2" stroke-width="1.05"/>
<path d="M420.69 454.44L423.18 450.36L418.21 450.36Z" fill="none" stroke="#9c4fb2" stroke-width="1.05"/>
<path d="M441.85 435.93L444.34 431.85L439.36 431.85Z" fill="none" stroke="#9c4fb2" stroke-width="1.05"/>
<path d="M611.09 414.99L613.58 410.91L608.6 410.91Z" fill="none" stroke="#9c4fb2" stroke-width="1.05"/>
<path d="M653.4 414.33L655.89 410.25L650.91 410.25Z" fill="none" stroke="#9c4fb2" stroke-width="1.05"/>
<rect x="62.5" y="660.6" width="267.1" height="239.5" fill="none" stroke="#222" stroke-width="1.2"/>
<path d="M57.5 891.1H62.5M57.5 846.8H62.5M57.5 802.5H62.5M57.5 758.2H62.5M57.5 713.9H62.5M57.5 669.6H62.5M72.4 900.1V904.7M85.17 900.1V904.7M106.44 900.1V904.7M276.65 900.1V904.7M319.2 900.1V904.7" stroke="#1c1c1c" stroke-width="1.2" fill="none"/>
<text transform="translate(53.1 891.4) rotate(-90) scale(1 1.04)" text-anchor="middle" font-size="16.0" stroke="#222" stroke-width="0.4">0.0</text>
<text transform="translate(53.1 846.66) rotate(-90) scale(1 1.04)" text-anchor="middle" font-size="16.0" stroke="#222" stroke-width="0.4">0.2</text>
<text transform="translate(53.1 801.92) rotate(-90) scale(1 1.04)" text-anchor="middle" font-size="16.0" stroke="#222" stroke-width="0.4">0.4</text>
<text transform="translate(53.1 757.18) rotate(-90) scale(1 1.04)" text-anchor="middle" font-size="16.0" stroke="#222" stroke-width="0.4">0.6</text>
<text transform="translate(53.1 712.44) rotate(-90) scale(1 1.04)" text-anchor="middle" font-size="16.0" stroke="#222" stroke-width="0.4">0.8</text>
<text transform="translate(53.1 667.7) rotate(-90) scale(1 1.04)" text-anchor="middle" font-size="16.0" stroke="#222" stroke-width="0.4">1.0</text>
<text transform="translate(56.7 916.6) scale(1 1.12)" font-size="15.5" stroke="#222" stroke-width="0.4">20</text>
<text transform="translate(76.5 916.6) scale(1 1.12)" font-size="15.5" stroke="#222" stroke-width="0.4">50</text>
<text transform="translate(97 916.6) scale(1 1.12)" font-size="15.5" stroke="#222" stroke-width="0.4">100</text>
<text transform="translate(264.9 916.6) scale(1 1.12)" font-size="15.5" stroke="#222" stroke-width="0.4">500</text>
<text transform="translate(306.6 916.6) scale(1 1.12)" font-size="15.5" stroke="#222" stroke-width="0.4">600</text>
<text transform="translate(84 649.3) scale(0.88 1)" font-size="27.3" stroke="#111" stroke-width="0.15">E</text>
<polyline points="72.4,869.39 85.17,840.6 106.44,820 276.65,777.69 319.2,772.6" fill="none" stroke="#161616" stroke-width="1.15" stroke-linejoin="round"/>
<circle cx="72.4" cy="869.39" r="1.99" fill="none" stroke="#161616" stroke-width="1.05"/>
<circle cx="85.17" cy="840.6" r="1.99" fill="none" stroke="#161616" stroke-width="1.05"/>
<circle cx="106.44" cy="820" r="1.99" fill="none" stroke="#161616" stroke-width="1.05"/>
<circle cx="276.65" cy="777.69" r="1.99" fill="none" stroke="#161616" stroke-width="1.05"/>
<circle cx="319.2" cy="772.6" r="1.99" fill="none" stroke="#161616" stroke-width="1.05"/>
<polyline points="72.4,825.09 85.17,796.74 106.44,777.25 276.65,742.25 319.2,739.15" fill="none" stroke="#e2e552" stroke-width="1.15" stroke-linejoin="round"/>
<path d="M70.41 823.1h3.99v3.99h-3.99ZM70.41 823.1L74.4 827.09M70.41 827.09L74.4 823.1" fill="#e9ec8a" stroke="#e2e552" stroke-width="1.05"/>
<path d="M83.17 794.75h3.99v3.99h-3.99ZM83.17 794.75L87.16 798.74M83.17 798.74L87.16 794.75" fill="#e9ec8a" stroke="#e2e552" stroke-width="1.05"/>
<path d="M104.45 775.25h3.99v3.99h-3.99ZM104.45 775.25L108.44 779.24M104.45 779.24L108.44 775.25" fill="#e9ec8a" stroke="#e2e552" stroke-width="1.05"/>
<path d="M274.65 740.26h3.99v3.99h-3.99ZM274.65 740.26L278.64 744.25M274.65 744.25L278.64 740.26" fill="#e9ec8a" stroke="#e2e552" stroke-width="1.05"/>
<path d="M317.2 737.16h3.99v3.99h-3.99ZM317.2 737.16L321.19 741.15M317.2 741.15L321.19 737.16" fill="#e9ec8a" stroke="#e2e552" stroke-width="1.05"/>
<polyline points="72.4,821.77 85.17,796.74 106.44,780.57 276.65,744.91 319.2,740.7" fill="none" stroke="#b8b8b8" stroke-width="1.15" stroke-linejoin="round"/>
<path d="M69.25 821.77L75.55 821.77M72.4 818.62L72.4 824.92M70.17 819.54L74.63 824M70.17 824L74.63 819.54" stroke="#b8b8b8" stroke-width="1.05"/>
<path d="M82.02 796.74L88.32 796.74M85.17 793.59L85.17 799.89M82.94 794.51L87.39 798.97M82.94 798.97L87.39 794.51" stroke="#b8b8b8" stroke-width="1.05"/>
<path d="M103.29 780.57L109.59 780.57M106.44 777.42L106.44 783.72M104.21 778.34L108.67 782.8M104.21 782.8L108.67 778.34" stroke="#b8b8b8" stroke-width="1.05"/>
<path d="M273.5 744.91L279.8 744.91M276.65 741.76L276.65 748.06M274.42 742.68L278.88 747.14M274.42 747.14L278.88 742.68" stroke="#b8b8b8" stroke-width="1.05"/>
<path d="M316.05 740.7L322.35 740.7M319.2 737.55L319.2 743.85M316.97 738.47L321.43 742.93M316.97 742.93L321.43 738.47" stroke="#b8b8b8" stroke-width="1.05"/>
<polyline points="72.4,860.09 85.17,831.3 106.44,804.27 276.65,762.41 319.2,759.09" fill="none" stroke="#e2434a" stroke-width="1.15" stroke-linejoin="round"/>
<path d="M72.4 857.68L74.89 861.76L69.91 861.76Z" fill="none" stroke="#e2434a" stroke-width="1.05" stroke-linejoin="miter"/>
<path d="M85.17 828.88L87.65 832.96L82.68 832.96Z" fill="none" stroke="#e2434a" stroke-width="1.05" stroke-linejoin="miter"/>
<path d="M106.44 801.86L108.93 805.94L103.95 805.94Z" fill="none" stroke="#e2434a" stroke-width="1.05" stroke-linejoin="miter"/>
<path d="M276.65 759.99L279.14 764.07L274.16 764.07Z" fill="none" stroke="#e2434a" stroke-width="1.05" stroke-linejoin="miter"/>
<path d="M319.2 756.67L321.69 760.75L316.71 760.75Z" fill="none" stroke="#e2434a" stroke-width="1.05" stroke-linejoin="miter"/>
<polyline points="72.4,853 85.17,816.01 106.44,797.63 276.65,772.82 319.2,769.5" fill="none" stroke="#4856ac" stroke-width="1.15" stroke-linejoin="round"/>
<path d="M70.2 850.8L74.61 855.21M70.2 855.21L74.61 850.8" stroke="#4856ac" stroke-width="1.05"/>
<path d="M82.96 813.81L87.37 818.22M82.96 818.22L87.37 813.81" stroke="#4856ac" stroke-width="1.05"/>
<path d="M104.24 795.42L108.65 799.83M104.24 799.83L108.65 795.42" stroke="#4856ac" stroke-width="1.05"/>
<path d="M274.44 770.61L278.85 775.02M274.44 775.02L278.85 770.61" stroke="#4856ac" stroke-width="1.05"/>
<path d="M317 767.29L321.4 771.7M317 771.7L321.4 767.29" stroke="#4856ac" stroke-width="1.05"/>
<polyline points="72.4,863.41 85.17,851.67 106.44,838.83 276.65,813.13 319.2,808.48" fill="none" stroke="#45ac45" stroke-width="1.15" stroke-linejoin="round"/>
<path d="M72.4 860.89L74.92 863.41L72.4 865.93L69.88 863.41ZM72.4 860.89L72.4 865.93M69.88 863.41L74.92 863.41" fill="none" stroke="#45ac45" stroke-width="1.05"/>
<path d="M85.17 849.15L87.69 851.67L85.17 854.19L82.65 851.67ZM85.17 849.15L85.17 854.19M82.65 851.67L87.69 851.67" fill="none" stroke="#45ac45" stroke-width="1.05"/>
<path d="M106.44 836.31L108.96 838.83L106.44 841.35L103.92 838.83ZM106.44 836.31L106.44 841.35M103.92 838.83L108.96 838.83" fill="none" stroke="#45ac45" stroke-width="1.05"/>
<path d="M276.65 810.61L279.17 813.13L276.65 815.65L274.13 813.13ZM276.65 810.61L276.65 815.65M274.13 813.13L279.17 813.13" fill="none" stroke="#45ac45" stroke-width="1.05"/>
<path d="M319.2 805.96L321.72 808.48L319.2 811L316.68 808.48ZM319.2 805.96L319.2 811M316.68 808.48L321.72 808.48" fill="none" stroke="#45ac45" stroke-width="1.05"/>
<polyline points="72.4,863.41 85.17,846.36 106.44,837.5 276.65,808.04 319.2,804.94" fill="none" stroke="#d83a3a" stroke-width="1.15" stroke-linejoin="round"/>
<circle cx="72.4" cy="863.41" r="1.99" fill="none" stroke="#d83a3a" stroke-width="1.05"/><path d="M72.4 861.42L72.4 865.41M70.41 863.41L74.4 863.41" stroke="#d83a3a" stroke-width="1.05"/>
<circle cx="85.17" cy="846.36" r="1.99" fill="none" stroke="#d83a3a" stroke-width="1.05"/><path d="M85.17 844.36L85.17 848.35M83.17 846.36L87.16 846.36" stroke="#d83a3a" stroke-width="1.05"/>
<circle cx="106.44" cy="837.5" r="1.99" fill="none" stroke="#d83a3a" stroke-width="1.05"/><path d="M106.44 835.5L106.44 839.49M104.45 837.5L108.44 837.5" stroke="#d83a3a" stroke-width="1.05"/>
<circle cx="276.65" cy="808.04" r="1.99" fill="none" stroke="#d83a3a" stroke-width="1.05"/><path d="M276.65 806.04L276.65 810.03M274.65 808.04L278.64 808.04" stroke="#d83a3a" stroke-width="1.05"/>
<circle cx="319.2" cy="804.94" r="1.99" fill="none" stroke="#d83a3a" stroke-width="1.05"/><path d="M319.2 802.94L319.2 806.93M317.2 804.94L321.19 804.94" stroke="#d83a3a" stroke-width="1.05"/>
<polyline points="72.4,765.73 85.17,744.25 106.44,735.61 276.65,725.64 319.2,721.87" fill="none" stroke="#72c6d2" stroke-width="1.15" stroke-linejoin="round"/>
<path d="M72.4 763.32L74.82 765.73L72.4 768.15L69.98 765.73Z" fill="none" stroke="#72c6d2" stroke-width="1.05"/>
<path d="M85.17 741.83L87.58 744.25L85.17 746.66L82.75 744.25Z" fill="none" stroke="#72c6d2" stroke-width="1.05"/>
<path d="M106.44 733.19L108.86 735.61L106.44 738.02L104.03 735.61Z" fill="none" stroke="#72c6d2" stroke-width="1.05"/>
<path d="M276.65 723.22L279.06 725.64L276.65 728.05L274.23 725.64Z" fill="none" stroke="#72c6d2" stroke-width="1.05"/>
<path d="M319.2 719.46L321.62 721.87L319.2 724.29L316.78 721.87Z" fill="none" stroke="#72c6d2" stroke-width="1.05"/>
<polyline points="72.4,793.86 85.17,764.18 106.44,755.54 276.65,737.6 319.2,733.17" fill="none" stroke="#9c4fb2" stroke-width="1.15" stroke-linejoin="round"/>
<path d="M72.4 796.28L74.89 792.2L69.91 792.2Z" fill="none" stroke="#9c4fb2" stroke-width="1.05"/>
<path d="M85.17 766.6L87.65 762.51L82.68 762.51Z" fill="none" stroke="#9c4fb2" stroke-width="1.05"/>
<path d="M106.44 757.96L108.93 753.88L103.95 753.88Z" fill="none" stroke="#9c4fb2" stroke-width="1.05"/>
<path d="M276.65 740.02L279.14 735.93L274.16 735.93Z" fill="none" stroke="#9c4fb2" stroke-width="1.05"/>
<path d="M319.2 735.59L321.69 731.5L316.71 731.5Z" fill="none" stroke="#9c4fb2" stroke-width="1.05"/>
<rect x="398.8" y="660.6" width="265.5" height="238.4" fill="none" stroke="#222" stroke-width="1.2"/>
<path d="M393.8 890.2H398.8M393.8 846.08H398.8M393.8 801.96H398.8M393.8 757.84H398.8M393.8 713.72H398.8M393.8 669.6H398.8M408.4 899V903.6M421.11 899V903.6M442.29 899V903.6M611.74 899V903.6M654.1 899V903.6" stroke="#1c1c1c" stroke-width="1.2" fill="none"/>
<text transform="translate(391.1 891.4) rotate(-90) scale(1 1.04)" text-anchor="middle" font-size="16.0" stroke="#222" stroke-width="0.4">0.0</text>
<text transform="translate(391.1 846.66) rotate(-90) scale(1 1.04)" text-anchor="middle" font-size="16.0" stroke="#222" stroke-width="0.4">0.2</text>
<text transform="translate(391.1 801.92) rotate(-90) scale(1 1.04)" text-anchor="middle" font-size="16.0" stroke="#222" stroke-width="0.4">0.4</text>
<text transform="translate(391.1 757.18) rotate(-90) scale(1 1.04)" text-anchor="middle" font-size="16.0" stroke="#222" stroke-width="0.4">0.6</text>
<text transform="translate(391.1 712.44) rotate(-90) scale(1 1.04)" text-anchor="middle" font-size="16.0" stroke="#222" stroke-width="0.4">0.8</text>
<text transform="translate(391.1 667.7) rotate(-90) scale(1 1.04)" text-anchor="middle" font-size="16.0" stroke="#222" stroke-width="0.4">1.0</text>
<text transform="translate(390.9 915.8) scale(1 1.12)" font-size="15.5" stroke="#222" stroke-width="0.4">20</text>
<text transform="translate(410.7 915.8) scale(1 1.12)" font-size="15.5" stroke="#222" stroke-width="0.4">50</text>
<text transform="translate(430.8 915.8) scale(1 1.12)" font-size="15.5" stroke="#222" stroke-width="0.4">100</text>
<text transform="translate(598.7 915.8) scale(1 1.12)" font-size="15.5" stroke="#222" stroke-width="0.4">500</text>
<text transform="translate(640.6 915.8) scale(1 1.12)" font-size="15.5" stroke="#222" stroke-width="0.4">600</text>
<text transform="translate(424.4 645.2) scale(0.8 1.03)" font-size="27.3" stroke="#111" stroke-width="0.15">F</text>
<polyline points="408.4,864.61 421.11,847.4 442.29,835.05 611.74,786.08 654.1,781.44" fill="none" stroke="#161616" stroke-width="1.15" stroke-linejoin="round"/>
<circle cx="408.4" cy="864.61" r="1.99" fill="none" stroke="#161616" stroke-width="1.05"/>
<circle cx="421.11" cy="847.4" r="1.99" fill="none" stroke="#161616" stroke-width="1.05"/>
<circle cx="442.29" cy="835.05" r="1.99" fill="none" stroke="#161616" stroke-width="1.05"/>
<circle cx="611.74" cy="786.08" r="1.99" fill="none" stroke="#161616" stroke-width="1.05"/>
<circle cx="654.1" cy="781.44" r="1.99" fill="none" stroke="#161616" stroke-width="1.05"/>
<polyline points="408.4,872.55 421.11,862.4 442.29,848.29 611.74,798.65 654.1,793.58" fill="none" stroke="#e2e552" stroke-width="1.15" stroke-linejoin="round"/>
<path d="M406.4 870.56h3.99v3.99h-3.99ZM406.4 870.56L410.39 874.55M406.4 874.55L410.39 870.56" fill="#e9ec8a" stroke="#e2e552" stroke-width="1.05"/>
<path d="M419.11 860.41h3.99v3.99h-3.99ZM419.11 860.41L423.1 864.4M419.11 864.4L423.1 860.41" fill="#e9ec8a" stroke="#e2e552" stroke-width="1.05"/>
<path d="M440.29 846.29h3.99v3.99h-3.99ZM440.29 846.29L444.28 850.28M440.29 850.28L444.28 846.29" fill="#e9ec8a" stroke="#e2e552" stroke-width="1.05"/>
<path d="M609.74 796.66h3.99v3.99h-3.99ZM609.74 796.66L613.73 800.65M609.74 800.65L613.73 796.66" fill="#e9ec8a" stroke="#e2e552" stroke-width="1.05"/>
<path d="M652.11 791.58h3.99v3.99h-3.99ZM652.11 791.58L656.1 795.57M652.11 795.57L656.1 791.58" fill="#e9ec8a" stroke="#e2e552" stroke-width="1.05"/>
<polyline points="408.4,872.55 421.11,858.43 442.29,842.55 611.74,794.02 654.1,788.06" fill="none" stroke="#b8b8b8" stroke-width="1.15" stroke-linejoin="round"/>
<path d="M405.25 872.55L411.55 872.55M408.4 869.4L408.4 875.7M406.17 870.32L410.63 874.78M406.17 874.78L410.63 870.32" stroke="#b8b8b8" stroke-width="1.05"/>
<path d="M417.96 858.43L424.26 858.43M421.11 855.28L421.11 861.58M418.88 856.21L423.34 860.66M418.88 860.66L423.34 856.21" stroke="#b8b8b8" stroke-width="1.05"/>
<path d="M439.14 842.55L445.44 842.55M442.29 839.4L442.29 845.7M440.06 840.32L444.52 844.78M440.06 844.78L444.52 840.32" stroke="#b8b8b8" stroke-width="1.05"/>
<path d="M608.59 794.02L614.89 794.02M611.74 790.87L611.74 797.17M609.51 791.79L613.96 796.25M609.51 796.25L613.96 791.79" stroke="#b8b8b8" stroke-width="1.05"/>
<path d="M650.95 788.06L657.25 788.06M654.1 784.91L654.1 791.21M651.87 785.84L656.33 790.29M651.87 790.29L656.33 785.84" stroke="#b8b8b8" stroke-width="1.05"/>
<polyline points="408.4,871.67 421.11,847.4 442.29,834.61 611.74,775.49 654.1,769.75" fill="none" stroke="#e2434a" stroke-width="1.15" stroke-linejoin="round"/>
<path d="M408.4 869.25L410.89 873.34L405.91 873.34Z" fill="none" stroke="#e2434a" stroke-width="1.05" stroke-linejoin="miter"/>
<path d="M421.11 844.99L423.6 849.07L418.62 849.07Z" fill="none" stroke="#e2434a" stroke-width="1.05" stroke-linejoin="miter"/>
<path d="M442.29 832.19L444.78 836.28L439.8 836.28Z" fill="none" stroke="#e2434a" stroke-width="1.05" stroke-linejoin="miter"/>
<path d="M611.74 773.07L614.23 777.15L609.25 777.15Z" fill="none" stroke="#e2434a" stroke-width="1.05" stroke-linejoin="miter"/>
<path d="M654.1 767.34L656.59 771.42L651.61 771.42Z" fill="none" stroke="#e2434a" stroke-width="1.05" stroke-linejoin="miter"/>
<polyline points="408.4,875.64 421.11,851.37 442.29,841.23 611.74,801.96 654.1,798.43" fill="none" stroke="#4856ac" stroke-width="1.15" stroke-linejoin="round"/>
<path d="M406.19 873.44L410.6 877.85M406.19 877.85L410.6 873.44" stroke="#4856ac" stroke-width="1.05"/>
<path d="M418.9 849.17L423.31 853.58M418.9 853.58L423.31 849.17" stroke="#4856ac" stroke-width="1.05"/>
<path d="M440.08 839.02L444.49 843.43M440.08 843.43L444.49 839.02" stroke="#4856ac" stroke-width="1.05"/>
<path d="M609.53 799.75L613.94 804.17M609.53 804.17L613.94 799.75" stroke="#4856ac" stroke-width="1.05"/>
<path d="M651.89 796.23L656.31 800.64M651.89 800.64L656.31 796.23" stroke="#4856ac" stroke-width="1.05"/>
<polyline points="408.4,851.37 421.11,831.08 442.29,805.49 611.74,759.83 654.1,755.63" fill="none" stroke="#45ac45" stroke-width="1.15" stroke-linejoin="round"/>
<path d="M408.4 848.85L410.92 851.37L408.4 853.89L405.88 851.37ZM408.4 848.85L408.4 853.89M405.88 851.37L410.92 851.37" fill="none" stroke="#45ac45" stroke-width="1.05"/>
<path d="M421.11 828.56L423.63 831.08L421.11 833.6L418.59 831.08ZM421.11 828.56L421.11 833.6M418.59 831.08L423.63 831.08" fill="none" stroke="#45ac45" stroke-width="1.05"/>
<path d="M442.29 802.97L444.81 805.49L442.29 808.01L439.77 805.49ZM442.29 802.97L442.29 808.01M439.77 805.49L444.81 805.49" fill="none" stroke="#45ac45" stroke-width="1.05"/>
<path d="M611.74 757.31L614.26 759.83L611.74 762.35L609.22 759.83ZM611.74 757.31L611.74 762.35M609.22 759.83L614.26 759.83" fill="none" stroke="#45ac45" stroke-width="1.05"/>
<path d="M654.1 753.11L656.62 755.63L654.1 758.15L651.58 755.63ZM654.1 753.11L654.1 758.15M651.58 755.63L656.62 755.63" fill="none" stroke="#45ac45" stroke-width="1.05"/>
<polyline points="408.4,855.12 421.11,830.64 442.29,802.62 611.74,748.13 654.1,742.4" fill="none" stroke="#d83a3a" stroke-width="1.15" stroke-linejoin="round"/>
<circle cx="408.4" cy="855.12" r="1.99" fill="none" stroke="#d83a3a" stroke-width="1.05"/><path d="M408.4 853.13L408.4 857.12M406.4 855.12L410.39 855.12" stroke="#d83a3a" stroke-width="1.05"/>
<circle cx="421.11" cy="830.64" r="1.99" fill="none" stroke="#d83a3a" stroke-width="1.05"/><path d="M421.11 828.64L421.11 832.63M419.11 830.64L423.1 830.64" stroke="#d83a3a" stroke-width="1.05"/>
<circle cx="442.29" cy="802.62" r="1.99" fill="none" stroke="#d83a3a" stroke-width="1.05"/><path d="M442.29 800.63L442.29 804.62M440.29 802.62L444.28 802.62" stroke="#d83a3a" stroke-width="1.05"/>
<circle cx="611.74" cy="748.13" r="1.99" fill="none" stroke="#d83a3a" stroke-width="1.05"/><path d="M611.74 746.14L611.74 750.13M609.74 748.13L613.73 748.13" stroke="#d83a3a" stroke-width="1.05"/>
<circle cx="654.1" cy="742.4" r="1.99" fill="none" stroke="#d83a3a" stroke-width="1.05"/><path d="M654.1 740.4L654.1 744.39M652.11 742.4L656.1 742.4" stroke="#d83a3a" stroke-width="1.05"/>
<polyline points="408.4,818.73 421.11,795.12 442.29,788.72 611.74,759.83 654.1,755.63" fill="none" stroke="#72c6d2" stroke-width="1.15" stroke-linejoin="round"/>
<path d="M408.4 816.31L410.81 818.73L408.4 821.14L405.98 818.73Z" fill="none" stroke="#72c6d2" stroke-width="1.05"/>
<path d="M421.11 792.71L423.52 795.12L421.11 797.54L418.69 795.12Z" fill="none" stroke="#72c6d2" stroke-width="1.05"/>
<path d="M442.29 786.31L444.7 788.72L442.29 791.14L439.87 788.72Z" fill="none" stroke="#72c6d2" stroke-width="1.05"/>
<path d="M611.74 757.41L614.15 759.83L611.74 762.24L609.32 759.83Z" fill="none" stroke="#72c6d2" stroke-width="1.05"/>
<path d="M654.1 753.22L656.51 755.63L654.1 758.05L651.69 755.63Z" fill="none" stroke="#72c6d2" stroke-width="1.05"/>
<polyline points="408.4,818.73 421.11,795.12 442.29,788.72 611.74,764.46 654.1,761.81" fill="none" stroke="#9c4fb2" stroke-width="1.15" stroke-linejoin="round"/>
<path d="M408.4 821.14L410.89 817.06L405.91 817.06Z" fill="none" stroke="#9c4fb2" stroke-width="1.05"/>
<path d="M421.11 797.54L423.6 793.46L418.62 793.46Z" fill="none" stroke="#9c4fb2" stroke-width="1.05"/>
<path d="M442.29 791.14L444.78 787.06L439.8 787.06Z" fill="none" stroke="#9c4fb2" stroke-width="1.05"/>
<path d="M611.74 766.87L614.23 762.79L609.25 762.79Z" fill="none" stroke="#9c4fb2" stroke-width="1.05"/>
<path d="M654.1 764.23L656.59 760.14L651.61 760.14Z" fill="none" stroke="#9c4fb2" stroke-width="1.05"/>
<text transform="translate(29.6 155) rotate(-90)" text-anchor="middle" font-size="16.5" stroke="#222" stroke-width="0.2">Overlapping Rates</text>
<text transform="translate(29.3 465.7) rotate(-90)" text-anchor="middle" font-size="16.5" stroke="#222" stroke-width="0.2">Overlapping Rates</text>
<text transform="translate(29.9 775.9) rotate(-90)" text-anchor="middle" font-size="16.5" stroke="#222" stroke-width="0.2">Overlapping Rates</text>
<circle cx="179.8" cy="199.7" r="3.89" fill="none" stroke="#161616" stroke-width="1.25"/>
<text transform="translate(191 203.9) scale(1 1.05)" font-size="12" stroke="#222" stroke-width="0.25" textLength="23.6">Raw</text>
<path d="M179.8 212.79L183.83 219.4L175.77 219.4Z" fill="none" stroke="#e2434a" stroke-width="1.25" stroke-linejoin="miter"/>
<text transform="translate(191 219.9) scale(1 1.05)" font-size="12" stroke="#222" stroke-width="0.25" textLength="35.6">Global</text>
<path d="M176.31 228.12L183.29 235.08M176.31 235.08L183.29 228.12" stroke="#4856ac" stroke-width="1.25"/>
<text transform="translate(191 235.8) scale(1 1.05)" font-size="12" stroke="#222" stroke-width="0.25" textLength="33.2">GLOG</text>
<path d="M179.8 243.86L184.04 248.1L179.8 252.34L175.56 248.1Z" fill="none" stroke="#72c6d2" stroke-width="1.25"/>
<text transform="translate(191 251.8) scale(1 1.05)" font-size="12" stroke="#222" stroke-width="0.25" textLength="52">P-Lowess</text>
<path d="M179.8 267.21L183.83 260.6L175.77 260.6Z" fill="none" stroke="#9c4fb2" stroke-width="1.25"/>
<text transform="translate(191 267.5) scale(1 1.05)" font-size="12" stroke="#222" stroke-width="0.25" textLength="56.6">NeuralNet</text>
<path d="M254.27 196.37h6.86v6.86h-6.86ZM254.27 196.37L261.13 203.23M254.27 203.23L261.13 196.37" fill="#e9ec8a" stroke="#e2e552" stroke-width="1.25"/>
<text transform="translate(268.2 204) scale(1 1.05)" font-size="12" stroke="#222" stroke-width="0.25" textLength="27.6">OLIN</text>
<path d="M252.78 216.2L262.62 216.2M257.7 211.28L257.7 221.12M254.22 212.72L261.18 219.68M254.22 219.68L261.18 212.72" stroke="#b8b8b8" stroke-width="1.25"/>
<text transform="translate(268.2 220.4) scale(1 1.05)" font-size="12" stroke="#222" stroke-width="0.25" textLength="34">OSLIN</text>
<path d="M257.7 228.27L262.03 232.6L257.7 236.93L253.37 232.6ZM257.7 228.27L257.7 236.93M253.37 232.6L262.03 232.6" fill="none" stroke="#45ac45" stroke-width="1.25"/>
<text transform="translate(268.2 236.8) scale(1 1.05)" font-size="12" stroke="#222" stroke-width="0.25" textLength="49.6">qsplineG</text>
<circle cx="257.7" cy="249" r="3.43" fill="none" stroke="#d83a3a" stroke-width="1.25"/><path d="M257.7 245.57L257.7 252.43M254.27 249L261.13 249" stroke="#d83a3a" stroke-width="1.25"/>
<text transform="translate(268.2 253.2) scale(1 1.05)" font-size="12" stroke="#222" stroke-width="0.25" textLength="49.4">qsplineR</text>
<path d="M192.3 918.7 C190.5 918.6 189.3 919.7 188.9 921.7 L185.6 933.6 C186.8 934.5 188.3 933.7 189.3 932.4" fill="none" stroke="#111" stroke-width="1.45" stroke-linecap="round"/><path d="M187.7 925.7L185.8 933.4" stroke="#111" stroke-width="2.1" stroke-linecap="round"/>
<path d="M544.5 918.7 C542.7 918.6 541.5 919.7 541.1 921.7 L537.8 933.6 C539 934.5 540.5 933.7 541.5 932.4" fill="none" stroke="#111" stroke-width="1.45" stroke-linecap="round"/><path d="M539.9 925.7L538 933.4" stroke="#111" stroke-width="2.1" stroke-linecap="round"/>
</g></svg></body></html>
